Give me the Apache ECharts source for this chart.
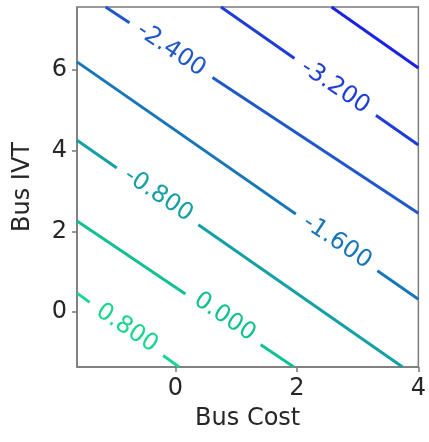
<!DOCTYPE html>
<html>
<head>
<meta charset="utf-8">
<script src="https://cdn.jsdelivr.net/npm/echarts@6/dist/echarts.min.js"></script>
<style>html,body{margin:0;padding:0;background:#fff;}#c{width:429px;height:442px;}</style>
</head>
<body>
<div id="c"></div>
<script>
// Axis ranges and ticks
const xMin = -1.62, xMax = 4.0, yMin = -1.36, yMax = 7.56;
const xTicks = [0, 2, 4];
const yTicks = [0, 2, 4, 6];

// Contour levels (straight iso-lines)
const levels = [0.8, 0.0, -0.8, -1.6, -2.4, -3.2, -4.0];
const lineStartX = [-1.62, -1.62, -1.62, -1.62, -1.15, 0.75, 2.57];
const lineStartY = [0.47, 2.26, 4.26, 6.20, 7.56, 7.56, 7.56];
const lineEndX = [0.06, 1.95, 3.74, 4.0, 4.0, 4.0, 4.0];
const lineEndY = [-1.36, -1.36, -1.36, 0.32, 2.45, 4.14, 6.05];

// Inline labels
const labelText = ['0.800', '0.000', '-0.800', '-1.600', '-2.400', '-3.200'];
const labelX = [-0.80, 0.81, -0.28, 2.66, -0.07, 2.63];
const labelY = [-0.40, -0.12, 2.90, 1.74, 6.50, 5.58];

const levelColors = ['#17d68e', '#12c093', '#14a0a4', '#1776b8', '#1f58c8', '#1e3dd6', '#1a22e8'];

const FONT = 'DejaVu Sans';
const chart = echarts.init(document.getElementById('c'), null, {renderer: 'canvas'});

const series = [];
levels.forEach((lv, i) => {
  series.push({
    type: 'line',
    name: String(lv),
    data: [[lineStartX[i], lineStartY[i]], [lineEndX[i], lineEndY[i]]],
    symbol: 'none',
    lineStyle: {color: levelColors[i], width: 3},
    z: 2,
    silent: true
  });
});
labelText.forEach((t, i) => {
  series.push({
    type: 'scatter',
    data: [[labelX[i], labelY[i]]],
    symbolSize: 1,
    itemStyle: {color: 'rgba(0,0,0,0)', opacity: 1},
    z: 5,
    silent: true,
    label: {
      show: true,
      position: 'inside',
      formatter: t,
      rotate: -34,
      color: levelColors[i],
      fontFamily: FONT,
      fontSize: 24,
      backgroundColor: '#ffffff',
      padding: [3, 11]
    }
  });
});

const axisCommon = {
  type: 'value',
  nameLocation: 'middle',
  nameTextStyle: {fontFamily: FONT, fontSize: 24, color: '#262626'},
  splitLine: {show: false},
  axisLine: {show: true, onZero: false, lineStyle: {color: '#7a7a7a', width: 1.5}},
  axisTick: {show: true, length: 5, lineStyle: {color: '#7a7a7a', width: 1.5}},
  axisLabel: {fontFamily: FONT, fontSize: 24, color: '#262626', margin: 10}
};

chart.setOption({
  animation: false,
  backgroundColor: '#ffffff',
  grid: {left: 77, right: 6, top: 7, bottom: 75, show: true, borderColor: '#7a7a7a', borderWidth: 1.5, containLabel: false},
  xAxis: Object.assign({}, axisCommon, {
    min: xMin, max: xMax, name: 'Bus Cost', nameGap: 40,
    axisTick: Object.assign({}, axisCommon.axisTick, {customValues: xTicks}),
    axisLabel: Object.assign({}, axisCommon.axisLabel, {customValues: xTicks})
  }),
  yAxis: Object.assign({}, axisCommon, {
    min: yMin, max: yMax, name: 'Bus IVT', nameGap: 42,
    axisTick: Object.assign({}, axisCommon.axisTick, {customValues: yTicks}),
    axisLabel: Object.assign({}, axisCommon.axisLabel, {customValues: yTicks})
  }),
  series: series
});
</script>
</body>
</html>
